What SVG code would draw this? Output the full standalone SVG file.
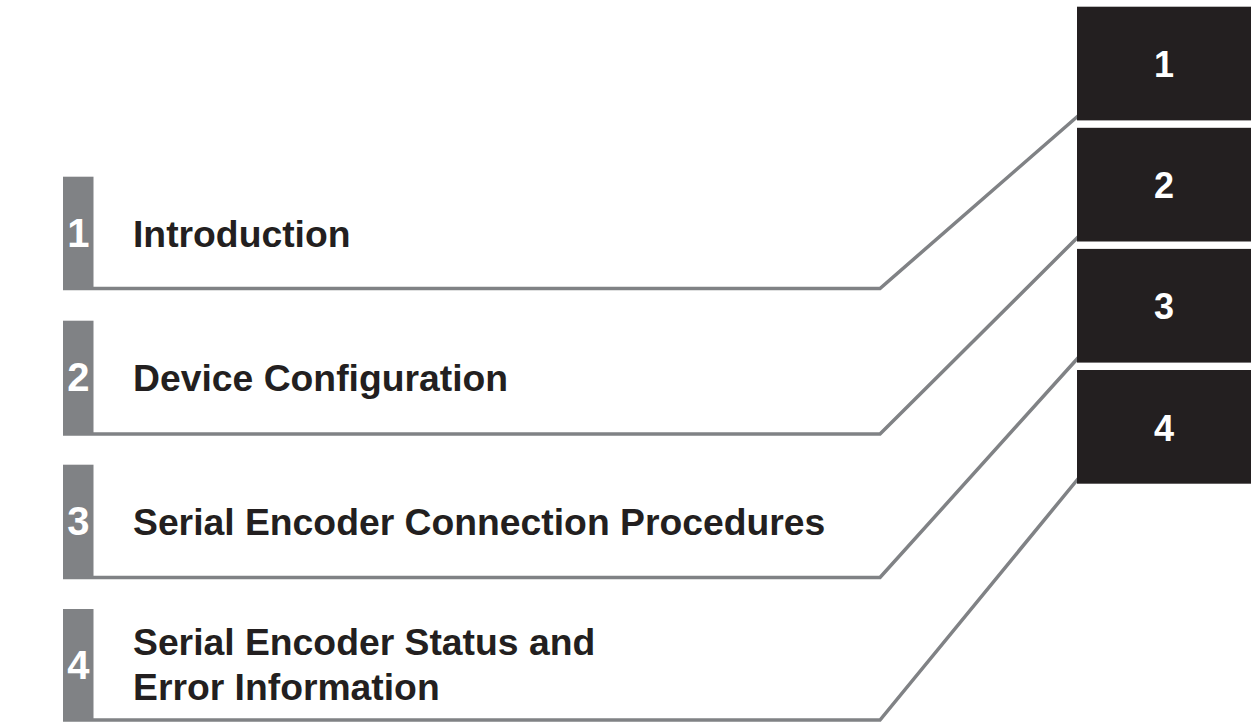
<svg xmlns="http://www.w3.org/2000/svg" width="1251" height="722" viewBox="0 0 1251 722">
  <style>
    .box { fill: #808285; }
    .boxnum { font-family: "Liberation Sans", Arial, sans-serif; font-weight: bold; font-size: 40px; fill: #ffffff; text-anchor: middle; }
    .title { font-family: "Liberation Sans", Arial, sans-serif; font-weight: bold; font-size: 37.3px; fill: #231f20; }
    .tab { fill: #231f20; }
    .tabnum { font-family: "Liberation Sans", Arial, sans-serif; font-weight: bold; font-size: 36px; fill: #ffffff; text-anchor: middle; }
    .leader { fill: none; stroke: #808285; stroke-width: 3.5; stroke-linejoin: miter; }
  </style>
  <rect width="1251" height="722" fill="#ffffff"/>

  <!-- leader lines from each chapter row to its thumb tab -->
  <g id="connectors">
    <polyline class="leader" points="63,288.5 880,288.5 1082,112.5"/>
    <polyline class="leader" points="63,434 880,434 1082,233"/>
    <polyline class="leader" points="63,577.5 880,577.5 1082,353.5"/>
    <polyline class="leader" points="63,720 880,720 1082,474"/>
  </g>

  <!-- chapter rows -->
  <g id="chapter-1">
    <rect class="box" x="63" y="176.7" width="30.5" height="112"/>
    <text class="boxnum" x="78.3" y="247">1</text>
    <text class="title" x="133" y="247">Introduction</text>
  </g>
  <g id="chapter-2">
    <rect class="box" x="63" y="320.7" width="30.5" height="113"/>
    <text class="boxnum" x="78.3" y="391">2</text>
    <text class="title" x="133" y="391">Device Configuration</text>
  </g>
  <g id="chapter-3">
    <rect class="box" x="63" y="464.7" width="30.5" height="113"/>
    <text class="boxnum" x="78.3" y="535">3</text>
    <text class="title" x="133" y="535">Serial Encoder Connection Procedures</text>
  </g>
  <g id="chapter-4">
    <rect class="box" x="63" y="609" width="30.5" height="111"/>
    <text class="boxnum" x="78.3" y="679">4</text>
    <text class="title" x="133" y="655">Serial Encoder Status and</text>
    <text class="title" x="133" y="700">Error Information</text>
  </g>

  <!-- thumb tabs on the right edge -->
  <g id="tab-1">
    <rect class="tab" x="1077" y="6.7" width="174" height="113.7"/>
    <text class="tabnum" x="1164" y="77.2">1</text>
  </g>
  <g id="tab-2">
    <rect class="tab" x="1077" y="127.8" width="174" height="113.7"/>
    <text class="tabnum" x="1164" y="198.3">2</text>
  </g>
  <g id="tab-3">
    <rect class="tab" x="1077" y="248.9" width="174" height="113.7"/>
    <text class="tabnum" x="1164" y="319.4">3</text>
  </g>
  <g id="tab-4">
    <rect class="tab" x="1077" y="370" width="174" height="113.7"/>
    <text class="tabnum" x="1164" y="440.5">4</text>
  </g>
</svg>
